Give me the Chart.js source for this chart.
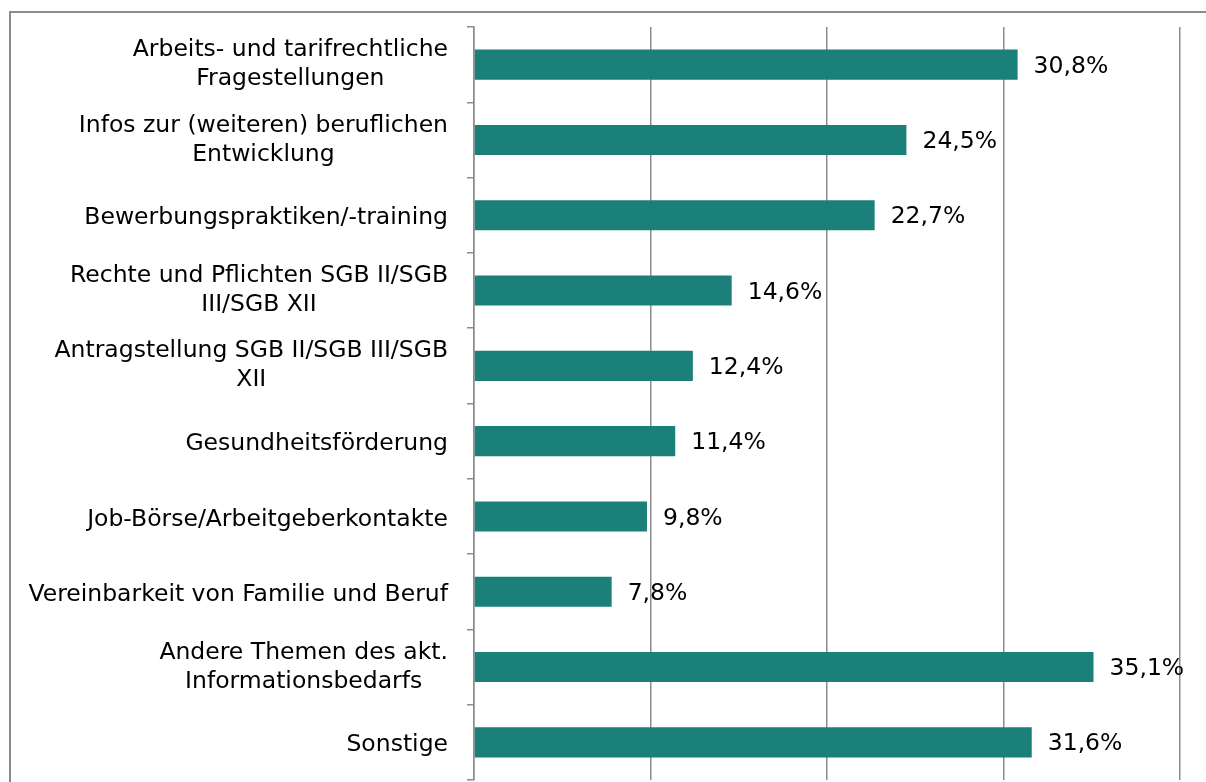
<!DOCTYPE html>
<html>
<head>
<meta charset="utf-8">
<script src="https://cdn.jsdelivr.net/npm/chart.js@4"></script>
<style>
  body { margin: 0; background: #fff; overflow: hidden; }
  #frame { position: absolute; left: 9px; top: 11px; width: 1400px; height: 900px; border: 2px solid #8c8c8c; }
  #wrap { position: absolute; left: 0; top: 0; width: 1206px; height: 782px; }
</style>
</head>
<body>
<div id="frame"></div>
<div id="wrap"><canvas id="chart"></canvas></div>
<script>
var categories = [
  ["Arbeits- und tarifrechtliche", "Fragestellungen"],
  ["Infos zur (weiteren) beruflichen", "Entwicklung"],
  ["Bewerbungspraktiken/-training"],
  ["Rechte und Pflichten SGB II/SGB", "III/SGB XII"],
  ["Antragstellung SGB II/SGB III/SGB", "XII"],
  ["Gesundheitsförderung"],
  ["Job-Börse/Arbeitgeberkontakte"],
  ["Vereinbarkeit von Familie und Beruf"],
  ["Andere Themen des akt.", "Informationsbedarfs"],
  ["Sonstige"]
];
var values = [30.8, 24.5, 22.7, 14.6, 12.4, 11.4, 9.8, 7.8, 35.1, 31.6];
var xTicks = [0, 10, 20, 30, 40];

var FONT = '23.5px "DejaVu Sans"';

// value labels at the bar ends and category labels (centered lines, block right-aligned)
var labelPlugin = {
  id: 'labels',
  afterDatasetsDraw: function (chart) {
    var ctx = chart.ctx;
    var meta = chart.getDatasetMeta(0);
    ctx.save();
    ctx.font = FONT;
    ctx.fillStyle = '#000';
    ctx.textBaseline = 'middle';
    ctx.textAlign = 'left';
    meta.data.forEach(function (bar, i) {
      var txt = values[i].toFixed(1).replace('.', ',') + '%';
      ctx.fillText(txt, bar.x + 16, bar.y + 2);
    });
    var yScale = chart.scales.y;
    var right = 448;
    var lh = 29;
    ctx.textAlign = 'center';
    categories.forEach(function (lines, i) {
      var cy = yScale.getPixelForValue(i);
      var w = 0;
      lines.forEach(function (l) { w = Math.max(w, ctx.measureText(l).width); });
      var cx = right - w / 2;
      var y0 = cy - (lines.length - 1) * lh / 2 + (lines.length > 1 ? 0 : 3);
      lines.forEach(function (l, k) { ctx.fillText(l, cx, y0 + k * lh); });
    });
    ctx.restore();
  }
};

new Chart(document.getElementById('chart'), {
  type: 'bar',
  data: {
    labels: categories,
    datasets: [{
      data: values,
      backgroundColor: '#1a8079',
      barPercentage: 0.8,
      categoryPercentage: 0.5
    }]
  },
  options: {
    indexAxis: 'y',
    responsive: true,
    maintainAspectRatio: false,
    animation: false,
    layout: { padding: { left: 0, right: 26, top: 27, bottom: 2 } },
    plugins: { legend: { display: false }, tooltip: { enabled: false } },
    scales: {
      x: {
        min: xTicks[0],
        max: xTicks[xTicks.length - 1],
        afterBuildTicks: function (s) { s.ticks = xTicks.map(function (v) { return { value: v }; }); },
        ticks: { display: false },
        grid: { color: '#8c8c8c', lineWidth: 1.5, drawTicks: false },
        border: { display: false }
      },
      y: {
        afterFit: function (s) { s.width = 474; },
        ticks: { display: false },
        grid: { drawOnChartArea: false, drawTicks: true, tickLength: 7, color: '#8c8c8c', lineWidth: 1.5, offset: true },
        border: { display: true, color: '#8c8c8c', width: 1.5 }
      }
    }
  },
  plugins: [labelPlugin]
});
</script>
</body>
</html>
